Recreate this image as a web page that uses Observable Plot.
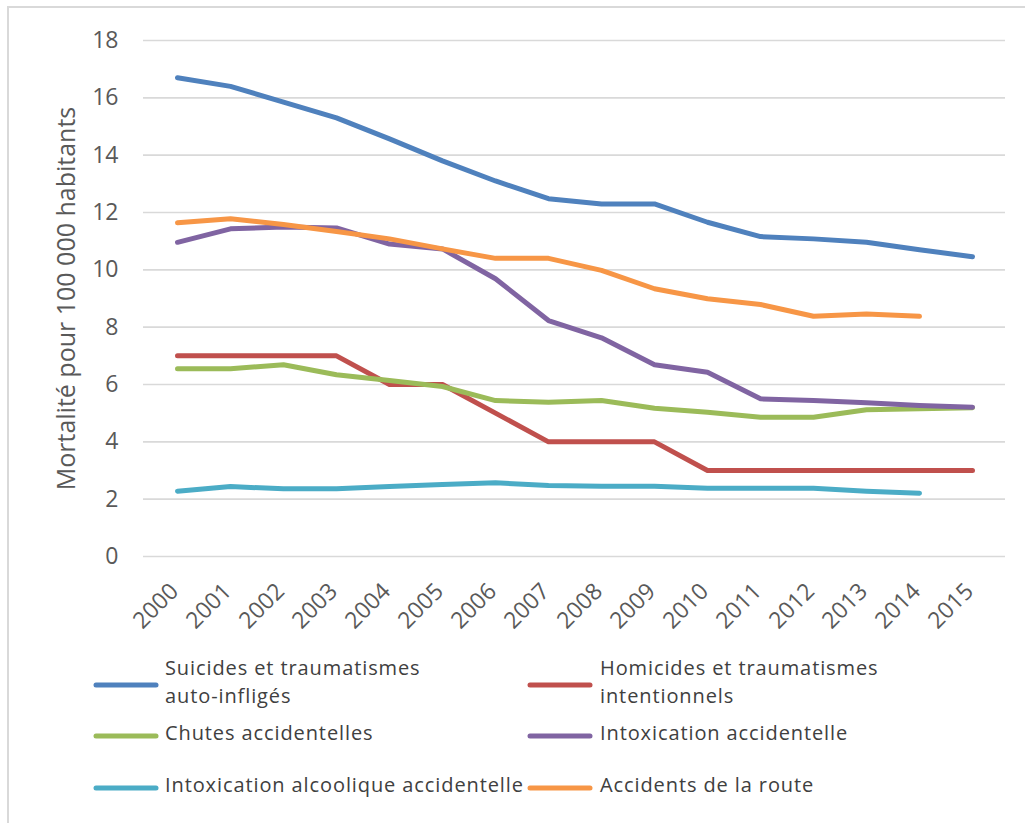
<!DOCTYPE html>
<html>
<head>
<meta charset="utf-8">
<script src="https://cdn.jsdelivr.net/npm/d3@7"></script>
<script src="https://cdn.jsdelivr.net/npm/@observablehq/plot@0.6"></script>
<style>
  body { margin: 0; background: #fff; }
  #wrap { position: relative; width: 1025px; height: 823px; overflow: hidden; font-family: "Open Sans", sans-serif; }
  #frame { position: absolute; left: 7px; top: 6px; width: 1030px; height: 830px; border-left: 2px solid #d9d9d9; border-top: 2px solid #d9d9d9; box-sizing: border-box; }
  #chart { position: absolute; left: 0; top: 0; }
  .leg { position: absolute; font-size: 20px; letter-spacing: 0.9px; color: #404040; line-height: 27px; height: 27px; white-space: nowrap; }
  .sw { position: absolute; }
</style>
</head>
<body>
<div id="wrap">
  <div id="frame"></div>
  <div id="chart"></div>
  <div id="legend"></div>
</div>
<script>
const years = [2000,2001,2002,2003,2004,2005,2006,2007,2008,2009,2010,2011,2012,2013,2014,2015];
const seriesNames = [
  "Suicides et traumatismes auto-infligés",
  "Homicides et traumatismes intentionnels",
  "Chutes accidentelles",
  "Intoxication accidentelle",
  "Intoxication alcoolique accidentelle",
  "Accidents de la route"
];
const seriesColors = ["#4F81BD", "#C0504D", "#9BBB59", "#8064A2", "#4BACC6", "#F79646"];
const suicides  = [16.7,16.4,15.85,15.3,14.57,13.8,13.1,12.48,12.3,12.3,11.66,11.16,11.08,10.96,10.7,10.46];
const homicides = [7,7,7,7,6,6,5,4,4,4,3,3,3,3,3,3];
const chutes    = [6.55,6.55,6.69,6.34,6.14,5.93,5.44,5.38,5.44,5.17,5.03,4.86,4.86,5.12,5.15,5.19];
const intox     = [10.96,11.43,11.49,11.46,10.9,10.73,9.69,8.23,7.63,6.69,6.43,5.5,5.44,5.36,5.27,5.21];
const alcool    = [2.28,2.44,2.36,2.36,2.44,2.51,2.57,2.48,2.45,2.45,2.38,2.38,2.38,2.28,2.21,null];
const route     = [11.64,11.78,11.58,11.34,11.08,10.73,10.4,10.4,9.98,9.34,8.99,8.79,8.38,8.46,8.38,null];
const yTicks = [0,2,4,6,8,10,12,14,16,18];
const yTitle = "Mortalité pour 100 000 habitants";
const legendLines = [
  ["Suicides et traumatismes", "auto-infligés"],
  ["Homicides et traumatismes", "intentionnels"],
  ["Chutes accidentelles"],
  ["Intoxication accidentelle"],
  ["Intoxication alcoolique accidentelle"],
  ["Accidents de la route"]
];

const allValues = [suicides, homicides, chutes, intox, alcool, route];
const data = [];
allValues.forEach((vals, i) => {
  vals.forEach((v, j) => {
    if (v != null) data.push({series: seriesNames[i], year: years[j], value: v});
  });
});

const chart = Plot.plot({
  width: 1025,
  height: 650,
  marginLeft: 143,
  marginRight: 20,
  marginTop: 40,
  marginBottom: 94,
  style: {fontFamily: "'Open Sans', sans-serif", fontSize: "23px", background: "transparent", overflow: "visible"},
  x: {type: "point", domain: years, padding: 0.55, axis: null},
  y: {domain: [0, 18]},
  color: {domain: seriesNames, range: seriesColors},
  marks: [
    Plot.ruleY(yTicks, {stroke: "#d9d9d9", strokeWidth: 1.6}),
    Plot.axisY({ticks: yTicks, tickSize: 0, tickPadding: 25, label: null, color: "#595959", fontSize: 23}),
    Plot.text(years, {x: d => d, text: d => String(d), frameAnchor: "bottom", dx: -3, dy: 31, rotate: -45, textAnchor: "end", lineAnchor: "middle", fill: "#595959", fontSize: 23}),
    Plot.text([yTitle], {frameAnchor: "left", dx: -77, rotate: -90, textAnchor: "middle", lineAnchor: "middle", fill: "#595959", fontSize: 25}),
    Plot.line(data, {x: "year", y: "value", z: "series", stroke: "series", strokeWidth: 5, strokeLinecap: "round", strokeLinejoin: "round"})
  ]
});
document.getElementById("chart").appendChild(chart);

// legend
const legend = document.getElementById("legend");
const cols = [{sw: 96, tx: 165}, {sw: 530, tx: 600}];
const rows = [{y: 685}, {y: 736}, {y: 788}];
const lineStep = 28;
seriesNames.forEach((name, i) => {
  const c = cols[i % 2];
  const r = rows[Math.floor(i / 2)];
  const sw = document.createElementNS("http://www.w3.org/2000/svg", "svg");
  sw.setAttribute("class", "sw");
  sw.setAttribute("width", 66);
  sw.setAttribute("height", 10);
  sw.style.left = (c.sw - 3) + "px";
  sw.style.top = (r.y - 5) + "px";
  const ln = document.createElementNS("http://www.w3.org/2000/svg", "line");
  ln.setAttribute("x1", 3); ln.setAttribute("x2", 63);
  ln.setAttribute("y1", 5); ln.setAttribute("y2", 5);
  ln.setAttribute("stroke", seriesColors[i]);
  ln.setAttribute("stroke-width", 5);
  ln.setAttribute("stroke-linecap", "round");
  sw.appendChild(ln);
  legend.appendChild(sw);
  const lines = legendLines[i];
  lines.forEach((line, k) => {
    const t = document.createElement("div");
    t.className = "leg";
    t.style.left = c.tx + "px";
    t.style.top = (r.y - lines.length * lineStep / 2 + k * lineStep - 3) + "px";
    t.textContent = line;
    legend.appendChild(t);
  });
});
</script>
</body>
</html>
